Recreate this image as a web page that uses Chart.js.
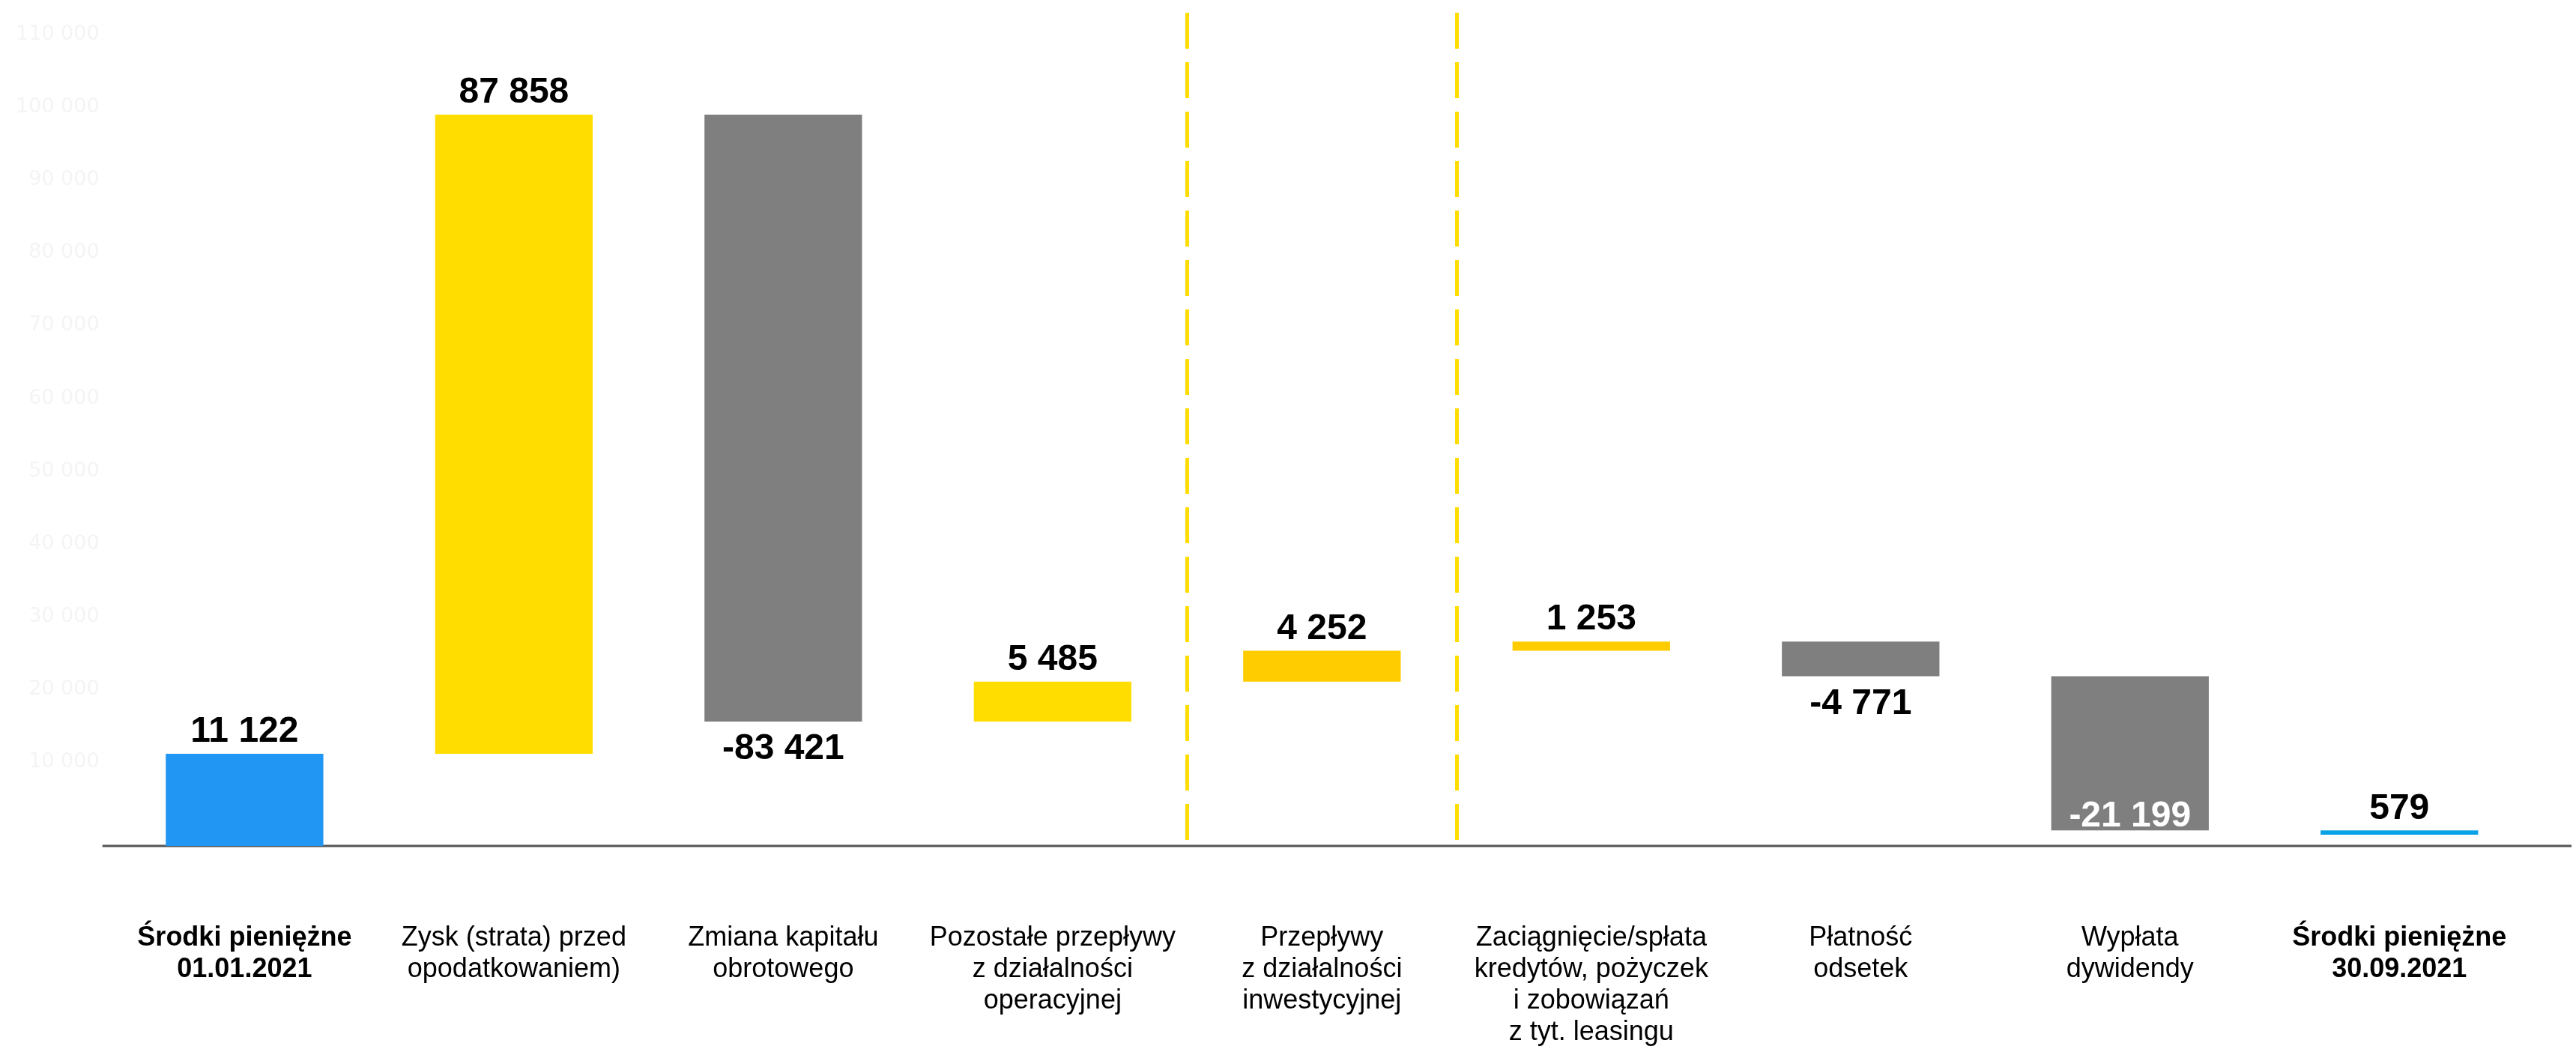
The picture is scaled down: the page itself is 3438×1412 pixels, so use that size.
<!DOCTYPE html>
<html>
<head>
<meta charset="utf-8">
<script src="https://cdn.jsdelivr.net/npm/chart.js@4.4.1/dist/chart.umd.min.js"></script>
<style>
  html, body { margin: 0; padding: 0; background: #fff; }
  #wrap { width: 3438px; height: 1412px; position: relative; }
</style>
</head>
<body>
<div id="wrap"><canvas id="PlotCanvas"></canvas></div>
<script>
var categories = [
    ['Środki pieniężne', '01.01.2021'],
    ['Zysk (strata) przed', 'opodatkowaniem)'],
    ['Zmiana kapitału', 'obrotowego'],
    ['Pozostałe przepływy', 'z działalności', 'operacyjnej'],
    ['Przepływy', 'z działalności', 'inwestycyjnej'],
    ['Zaciągnięcie/spłata', 'kredytów, pożyczek', 'i zobowiązań', 'z tyt. leasingu'],
    ['Płatność', 'odsetek'],
    ['Wypłata', 'dywidendy'],
    ['Środki pieniężne', '30.09.2021']
];
// first and last are balances, the rest are changes
var values = [11122, 87858, -83421, 5485, 4252, 1253, -4771, -21199, 579];
var yTickValues = [10000, 20000, 30000, 40000, 50000, 60000, 70000, 80000, 90000, 100000, 110000];
var barColors = ['#2196F3', '#FFDD00', '#7F7F7F', '#FFDD00', '#FFCC00', '#FFCC00', '#7F7F7F', '#7F7F7F', '#0AA2E6'];
var boldLabels = [0, 8];
var dividerLines = [4, 5];     // grid line index (left edge of category)
var insideLabels = [7];        // value label drawn inside bar, in white

var Y_MIN = -1550;
var Y_MAX = 113000;

function fmt(v) {
    var s = String(Math.abs(v)).replace(/\B(?=(\d{3})+(?!\d))/g, ' ');
    return (v < 0 ? '-' : '') + s;
}

// waterfall ranges
var running = 0;
var ranges = values.map(function (v, i) {
    if (i === 0) { running = v; return [Y_MIN, v]; }
    if (i === values.length - 1) { return [0, v]; }
    var r = [running, running + v];
    running += v;
    return r;
});

var axisLinePlugin = {
    id: 'axisLine',
    beforeDatasetsDraw: function (chart) {
        var ctx = chart.ctx, area = chart.chartArea;
        var y = chart.scales.y.getPixelForValue(Y_MIN);
        ctx.save();
        ctx.strokeStyle = '#555555';
        ctx.lineWidth = 3;
        ctx.beginPath();
        ctx.moveTo(area.left - 10, y);
        ctx.lineTo(chart.width - 6, y);
        ctx.stroke();
        ctx.restore();
    }
};

var valueLabelPlugin = {
    id: 'valueLabels',
    afterDatasetsDraw: function (chart) {
        var ctx = chart.ctx;
        var meta = chart.getDatasetMeta(0);
        ctx.save();
        ctx.font = 'bold 48px "Liberation Sans", Arial, sans-serif';
        ctx.textAlign = 'center';
        ctx.textBaseline = 'middle';
        meta.data.forEach(function (bar, i) {
            var v = values[i];
            var top = Math.min(bar.y, bar.base);
            var bottom = Math.max(bar.y, bar.base);
            var y, color = '#000000';
            if (insideLabels.indexOf(i) >= 0) {
                y = bottom - 19;
                color = '#FFFFFF';
            } else if (v >= 0) {
                y = top - 29;
            } else {
                y = bottom + 37;
            }
            ctx.fillStyle = color;
            ctx.fillText(fmt(v), bar.x, y);
        });
        ctx.restore();
    }
};

Chart.defaults.font.family = '"Liberation Sans", Arial, sans-serif';

var ctx = document.getElementById('PlotCanvas').getContext('2d');
var currentChart = new Chart(ctx, {
    type: 'bar',
    data: {
        labels: categories,
        datasets: [{
            data: ranges,
            backgroundColor: barColors,
            borderWidth: 0,
            borderSkipped: false,
            categoryPercentage: 1.0,
            barPercentage: 0.585
        }]
    },
    options: {
        responsive: true,
        maintainAspectRatio: false,
        animation: false,
        layout: { padding: { left: 7, right: 56, top: 17, bottom: 13 } },
        plugins: {
            legend: { display: false },
            tooltip: { enabled: false }
        },
        scales: {
            x: {
                afterFit: function (scale) {
                    scale.height = 270;
                    scale.paddingLeft = 0;
                    scale.paddingRight = 0;
                },
                grid: {
                    display: true,
                    drawTicks: false,
                    lineWidth: 5,
                    color: function (c) {
                        return dividerLines.indexOf(c.index) >= 0 ? '#FFDD00' : 'rgba(0,0,0,0)';
                    }
                },
                border: { display: false, dash: [48, 18] },
                ticks: {
                    autoSkip: false,
                    maxRotation: 0,
                    padding: 102,
                    color: '#000000',
                    font: function (c) {
                        return {
                            size: 36,
                            lineHeight: 1.17,
                            weight: boldLabels.indexOf(c.index) >= 0 ? 'bold' : 'normal'
                        };
                    }
                }
            },
            y: {
                min: Y_MIN,
                max: Y_MAX,
                afterBuildTicks: function (scale) {
                    scale.ticks = yTickValues.map(function (v) { return { value: v }; });
                },
                afterFit: function (scale) {
                    scale.paddingTop = 0;
                    scale.paddingBottom = 0;
                },
                grid: { display: false, drawTicks: false },
                border: { display: false },
                ticks: {
                    padding: 14,
                    color: '#F4F4F4',
                    font: { family: '"DejaVu Sans", sans-serif', size: 27 },
                    callback: function (v) { return fmt(v); }
                }
            }
        }
    },
    plugins: [axisLinePlugin, valueLabelPlugin]
});
</script>
</body>
</html>
